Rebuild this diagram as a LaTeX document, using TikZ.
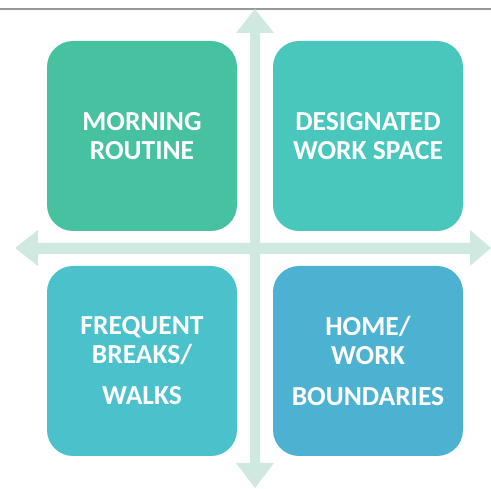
\documentclass[tikz,border=0pt]{standalone}
\usepackage{fontspec}
\setmainfont{Carlito}
\definecolor{mintbox}{HTML}{47C2A1}
\definecolor{aquabox}{HTML}{49C7BC}
\definecolor{cyanbox}{HTML}{4BC2CB}
\definecolor{bluebox}{HTML}{4DB2D1}
\definecolor{axisfill}{HTML}{CFE8E0}
\tikzset{
  quad/.style={rectangle, rounded corners=26pt, minimum width=190pt, minimum height=190pt,
    inner sep=0pt, text=white, align=center, font=\fontsize{27.5}{28.5}\selectfont\bfseries},
  axis/.style={fill=axisfill, draw=none}
}
\begin{document}
\begin{tikzpicture}[x=1pt, y=-1pt]
    \useasboundingbox (0, 0) rectangle (491, 489);
    \draw[gray!80, line width=1.5pt] (0, 9) -- (491, 9);
    % cross of arrows
    \fill[axis] (255, 9) -- (274, 33) -- (260, 33) -- (260, 463) -- (274, 463) -- (255, 488)
      -- (236, 463) -- (250, 463) -- (250, 33) -- (236, 33) -- cycle;
    \fill[axis] (15, 248) -- (38, 230) -- (38, 243) -- (470, 243) -- (470, 230) -- (491, 248)
      -- (470, 266) -- (470, 254) -- (38, 254) -- (38, 266) -- cycle;
    \node[quad, fill=mintbox] (morning) at (142, 136) {MORNING\\ROUTINE};
    \node[quad, fill=aquabox] (workspace) at (368, 136) {DESIGNATED\\WORK SPACE};
    \node[quad, fill=cyanbox] (breaks) at (142, 361) {FREQUENT\\BREAKS/\\[13pt]WALKS};
    \node[quad, fill=bluebox] (boundaries) at (368, 361) {HOME/\\WORK\\[13pt]BOUNDARIES};
  \end{tikzpicture}
\end{document}
